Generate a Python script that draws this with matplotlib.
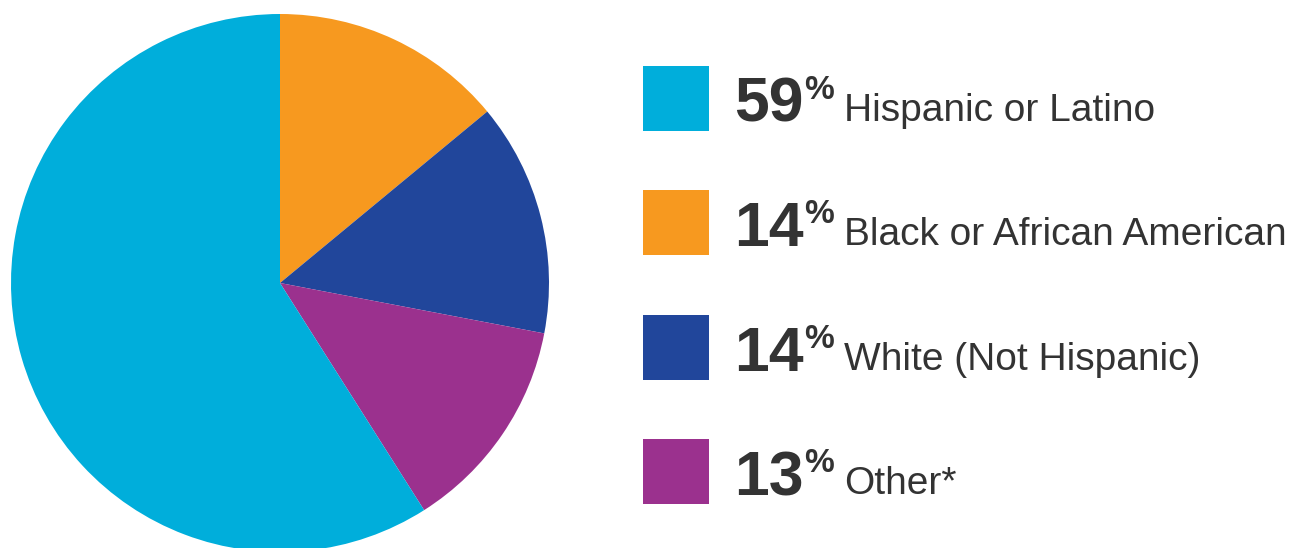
import matplotlib.pyplot as plt

W, H = 1297, 548

labels = ["Hispanic or Latino", "Black or African American",
          "White (Not Hispanic)", "Other*"]
values = [59, 14, 14, 13]
colors = ["#00AEDB", "#F7991F", "#21469B", "#9B318E"]

# drawing order around the pie (clockwise from the top)
pie_order = [1, 2, 3, 0]

fig = plt.figure(figsize=(W / 100, H / 100), dpi=100)
fig.patch.set_facecolor("white")


def px(x, y):
    return x / W, 1 - y / H


# pie axes, pixel box of the circle
cx, cy, r = 280, 283, 269
ax = fig.add_axes([(cx - r) / W, (H - cy - r) / H, 2 * r / W, 2 * r / H])
ax.pie(
    [values[i] for i in pie_order],
    colors=[colors[i] for i in pie_order],
    startangle=90,
    counterclock=False,
    radius=1,
    wedgeprops=dict(linewidth=0),
)
ax.set_xlim(-1, 1)
ax.set_ylim(-1, 1)
ax.set_aspect("equal")
ax.axis("off")

text_color = "#333333"
fig.canvas.draw()
renderer = fig.canvas.get_renderer()

row_y = [122, 246, 371, 495]
for i in range(4):
    base = row_y[i]
    sq = plt.Rectangle(px(643, base + 9), 66 / W, 65 / H,
                       transform=fig.transFigure, color=colors[i],
                       linewidth=0)
    fig.patches.append(sq)

    num = fig.text(*px(734, base), str(values[i]), fontsize=45,
                   fontweight="bold", family="Liberation Sans",
                   color=text_color, va="baseline", ha="left")
    x_end = num.get_window_extent(renderer).x1
    pct = fig.text(x_end / W + 1 / W, 1 - (base - 23) / H, "%",
                   fontsize=24, fontweight="semibold",
                   family="Liberation Sans",
                   color=text_color, va="baseline", ha="left")
    x_end = pct.get_window_extent(renderer).x1
    fig.text(x_end / W + 10 / W, 1 - (base - 1) / H, labels[i],
             fontsize=28, family="Liberation Sans",
             color=text_color, va="baseline", ha="left")

fig.savefig("out.png", dpi=100, facecolor="white")
